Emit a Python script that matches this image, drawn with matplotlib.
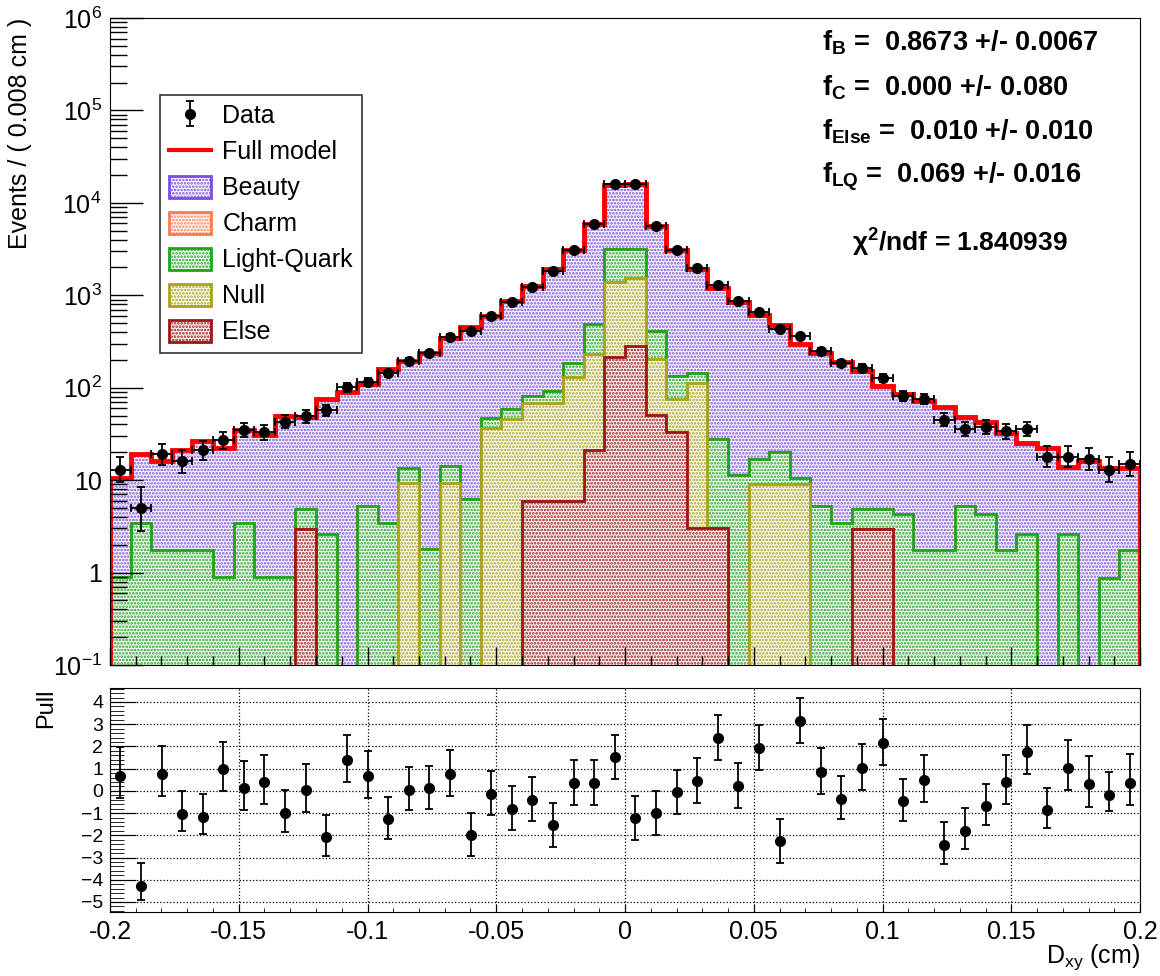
import numpy as np
import matplotlib
matplotlib.use("Agg")
import matplotlib.pyplot as plt
from matplotlib.patches import Patch
from matplotlib.lines import Line2D
from matplotlib.ticker import MultipleLocator, LogLocator, FuncFormatter, NullFormatter

plt.rcParams['font.family'] = ['Liberation Sans', 'DejaVu Sans']
plt.rcParams['mathtext.fontset'] = 'custom'
plt.rcParams['mathtext.rm'] = 'Liberation Sans'
plt.rcParams['mathtext.bf'] = 'Liberation Sans:bold'
plt.rcParams['mathtext.it'] = 'Liberation Sans:italic'
plt.rcParams['hatch.linewidth'] = 1.3

# binning of D_xy
x_lo, x_hi, n_bins = -0.2, 0.2, 50

# observed counts per bin
data_counts = np.array([
    13, 5, 19, 16, 21, 27, 35, 33, 43, 49,
    57, 101, 116, 143, 195, 236, 357, 415, 598, 849,
    1241, 1837, 3098, 5950, 15900, 15850, 5600, 3060, 1950, 1285,
    860, 655, 432, 360, 250, 184, 165, 127, 81, 76,
    45, 36, 38, 34, 36, 18, 18, 17, 13, 15], dtype=float)

# full fitted model per bin
model_total = np.array([
    10.5, 19, 16, 21, 26.5, 22, 34.5, 30.8, 50, 48.7,
    75, 89, 110, 158, 195, 236, 345, 458, 603, 872,
    1260, 1905, 3085, 5925, 15710, 16000, 5675, 3063, 1930, 1200,
    853, 606, 478, 300, 236, 189, 152, 104, 85, 71.5,
    62.5, 48, 42.7, 32, 25, 22.3, 14, 16, 13.6, 13.6])

# template contributions (charm fitted to zero)
lq_comp = np.array([
    0.89, 3.47, 1.76, 1.76, 1.76, 0.89, 3.47, 0.89, 0.89, 1.9,
    2.62, 0, 5.26, 3.47, 4.25, 1.79, 5.15, 6.2, 10.3, 12.9,
    13, 24, 55, 260, 1768, 1620, 212, 59, 33, 24.9,
    11.4, 7.7, 10.9, 1.5, 5.26, 3.47, 1.9, 1.9, 4.31, 1.76,
    1.76, 5.26, 4.31, 1.76, 2.62, 0, 2.62, 0, 0.87, 1.76])

null_comp = np.array([
    0, 0, 0, 0, 0, 0, 0, 0, 0, 0,
    0, 0, 0, 0, 9.25, 0, 9.25, 0, 36.5, 45.6,
    63, 63, 126, 209, 1195, 1271, 152, 42.5, 110, 0,
    0, 9.1, 9.1, 9.1, 0, 0, 0, 0, 0, 0,
    0, 0, 0, 0, 0, 0, 0, 0, 0, 0])

else_comp = np.array([
    0, 0, 0, 0, 0, 0, 0, 0, 0, 2.94,
    0, 0, 0, 0, 0, 0, 0, 0, 0, 0,
    5.96, 5.96, 5.96, 21.2, 214, 286, 50.8, 33.5, 3.0, 3.0,
    0, 0, 0, 0, 0, 0, 2.94, 2.94, 0, 0,
    0, 0, 0, 0, 0, 0, 0, 0, 0, 0])

charm_comp = np.zeros(n_bins)

# pulls
pull_values = np.array([
    0.66, -4.26, 0.77, -1.02, -1.16, 1.0, 0.14, 0.42, -0.98, 0.06,
    -2.07, 1.40, 0.69, -1.26, 0.06, 0.14, 0.77, -2.0, -0.12, -0.80,
    -0.39, -1.55, 0.36, 0.36, 1.52, -1.22, -0.99, -0.06, 0.44, 2.39,
    0.24, 1.94, -2.27, 3.14, 0.86, -0.35, 1.04, 2.16, -0.47, 0.51,
    -2.42, -1.79, -0.69, 0.41, 1.76, -0.86, 1.04, 0.29, -0.17, 0.36])

fit_text = [
    r"f$_{\mathbf{B}}$ =  0.8673 +/- 0.0067",
    r"f$_{\mathbf{C}}$ =  0.000 +/- 0.080",
    r"f$_{\mathbf{Else}}$ =  0.010 +/- 0.010",
    r"f$_{\mathbf{LQ}}$ =  0.069 +/- 0.016",
]
chi2_text = r"$\mathregular{\chi}$$^{\mathbf{2}}$/ndf = 1.840939"

edges = np.linspace(x_lo, x_hi, n_bins + 1)
centers = 0.5 * (edges[1:] + edges[:-1])
bin_w = edges[1] - edges[0]
floor = 1e-3

# Poisson (Gehrels) errors on data
n = data_counts
err_hi = np.sqrt(n + 0.75) + 1.0
err_lo = n - n * (1 - 1 / (9 * n) - 1 / (3 * np.sqrt(n))) ** 3
above = n > model_total
pull_up = np.where(above, err_hi / err_lo, 1.0)
pull_dn = np.where(above, 1.0, err_lo / err_hi)

# stacked levels as drawn
lvl_else = else_comp
lvl_null = lvl_else + null_comp
lvl_lq = lvl_null + lq_comp
lvl_charm = lvl_lq + charm_comp
lvl_beauty = model_total

styles = [
    ("Beauty", lvl_beauty, "#7b4fe0"),
    ("Charm", lvl_charm, "#ff7a50"),
    ("Light-Quark", lvl_lq, "#1ea51e"),
    ("Null", lvl_null, "#a8a31a"),
    ("Else", lvl_else, "#a01414"),
]
hatch = "....."

fig = plt.figure(figsize=(11.6, 9.76), dpi=100)
ax = fig.add_axes([110 / 1160, 1 - 665 / 976, 1030 / 1160, 647 / 976])
axp = fig.add_axes([110 / 1160, 1 - 912 / 976, 1030 / 1160, 224 / 976])

for name, lvl, col in styles:
    ax.stairs(np.where(lvl > 0, lvl, floor), edges, baseline=floor, fill=True,
              facecolor="white", edgecolor=col, hatch=hatch, linewidth=2)

ax.stairs(model_total, edges, baseline=floor, fill=False, color="red", linewidth=3.5)
ax.errorbar(centers, data_counts, xerr=bin_w / 2, yerr=[err_lo, err_hi], fmt="o",
            color="black", ms=7, elinewidth=1.3, capsize=3, capthick=1.3)

ax.set_yscale("log")
ax.set_ylim(0.1, 1e6)
ax.set_xlim(x_lo, x_hi)
ax.yaxis.set_major_locator(LogLocator(base=10, numticks=20))
ax.yaxis.set_minor_locator(LogLocator(base=10, subs=np.arange(2, 10), numticks=20))
ax.yaxis.set_minor_formatter(NullFormatter())


def log_label(v, pos):
    e = int(round(np.log10(v)))
    if e == 0:
        return "1"
    if e == 1:
        return "10"
    return r"$10^{%d}$" % e


ax.yaxis.set_major_formatter(FuncFormatter(log_label))
ax.xaxis.set_major_locator(MultipleLocator(0.05))
ax.xaxis.set_minor_locator(MultipleLocator(0.01))
ax.tick_params(which="both", direction="in", top=False, right=False, labelbottom=False)
ax.tick_params(axis="y", which="major", length=24, width=1, labelsize=18, pad=6)
ax.tick_params(axis="y", which="minor", length=12, width=1)
ax.tick_params(axis="x", which="major", length=13, width=1)
ax.tick_params(axis="x", which="minor", length=6.5, width=1)
ax.set_ylabel("Events / ( 0.008 cm )", loc="top", fontsize=18)
ax.yaxis.set_label_coords(-0.076, 1.0)

# legend
data_handle = ax.errorbar([np.nan], [np.nan], yerr=[1.0], fmt="o", color="black",
                          ms=7, elinewidth=1.3, capsize=3, capthick=1.3)
handles = [data_handle, Line2D([], [], color="red", lw=3)]
labels = ["Data", "Full model"]
for name, lvl, col in styles:
    handles.append(Patch(facecolor="white", edgecolor=col, hatch=hatch, linewidth=2))
    labels.append(name)
leg = ax.legend(handles, labels, loc="upper left", bbox_to_anchor=(0.0485, 0.881),
                borderaxespad=0, fontsize=18, frameon=True, fancybox=False,
                labelspacing=0.45, handlelength=1.7, handleheight=1.0,
                handletextpad=0.45, borderpad=0.35)
leg.get_frame().set_edgecolor("black")
leg.get_frame().set_linewidth(1.2)

for i, t in enumerate(fit_text):
    fig.text(822 / 1160, 1 - (43 + 44.5 * i) / 976, t, fontsize=19.5, fontweight="bold",
             va="center", ha="left")
fig.text(852 / 1160, 1 - 243 / 976, chi2_text, fontsize=19, fontweight="bold",
         va="center", ha="left")

# pull panel
axp.errorbar(centers, pull_values, yerr=[pull_dn, pull_up], fmt="o", color="black",
             ms=7, elinewidth=1.3, capsize=3, capthick=1.3)
axp.set_xlim(x_lo, x_hi)
axp.set_ylim(-5.45, 4.63)
axp.yaxis.set_major_locator(MultipleLocator(1))
axp.yaxis.set_minor_locator(MultipleLocator(0.2))
axp.xaxis.set_major_locator(MultipleLocator(0.05))
axp.xaxis.set_minor_locator(MultipleLocator(0.01))
axp.xaxis.set_major_formatter(FuncFormatter(lambda v, p: "%g" % round(v, 3)))
axp.grid(True, which="major", linestyle=":", color="black", linewidth=0.9)
axp.tick_params(which="both", direction="in", top=False, right=False)
axp.tick_params(axis="y", which="major", length=19, labelsize=14, pad=5)
axp.tick_params(axis="y", which="minor", length=10)
axp.tick_params(axis="x", which="major", length=6, labelsize=18, pad=6)
axp.tick_params(axis="x", which="minor", length=3)
axp.set_ylabel("Pull", loc="top", fontsize=17)
axp.yaxis.set_label_coords(-0.051, 1.0)
axp.set_xlabel(r"D$_{\mathrm{xy}}$ (cm)", loc="right", fontsize=18)
axp.xaxis.set_label_coords(1.0, -0.135)

fig.savefig("out.png", dpi=100)
